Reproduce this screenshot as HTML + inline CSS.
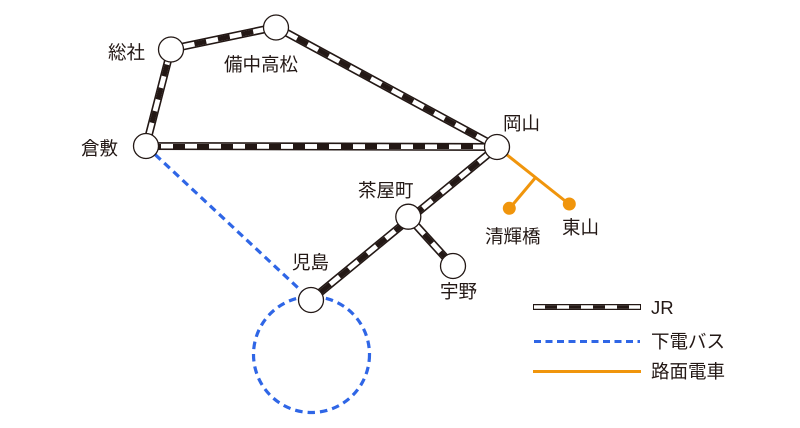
<!DOCTYPE html>
<html><head><meta charset="utf-8">
<style>
html,body{margin:0;padding:0;background:#fff;}
svg{display:block;}
text{font-family:"Liberation Sans","Noto Sans CJK JP",sans-serif;font-size:18.5px;fill:#231815;}
</style></head>
<body>
<svg width="800" height="428" viewBox="0 0 800 428" xmlns="http://www.w3.org/2000/svg">
<!-- bus dashed -->
<g fill="none" stroke="#2f66e6" stroke-width="3.2" stroke-dasharray="7.5 5">
  <line x1="146" y1="146" x2="311" y2="300"/>
  <circle cx="311.5" cy="354.5" r="58"/>
</g>
<!-- tram -->
<g stroke="#f0950c" stroke-width="3" fill="none">
  <line x1="497" y1="147" x2="569" y2="204"/>
  <line x1="536" y1="177" x2="509.5" y2="208.5"/>
</g>
<g fill="#f0950c">
  <circle cx="569.3" cy="204" r="6.5"/>
  <circle cx="509.3" cy="208.3" r="6.5"/>
</g>
<!-- JR lines -->
<g fill="none" stroke-linecap="butt">
  <g stroke="#231815" stroke-width="8">
    <polyline points="146,146 171,49 276,27 497,147 146,146"/>
    <line x1="497" y1="147" x2="311" y2="300"/>
    <line x1="408" y1="216.5" x2="453" y2="266"/>
  </g>
  <g stroke="#fff" stroke-width="4.8">
    <polyline points="146,146 171,49 276,27 497,147 146,146"/>
    <line x1="497" y1="147" x2="311" y2="300"/>
    <line x1="408" y1="216.5" x2="453" y2="266"/>
  </g>
  <g stroke="#231815" stroke-width="4.9" stroke-dasharray="12 12">
    <line x1="146" y1="146" x2="171" y2="49"/>
    <line x1="171" y1="49" x2="276" y2="27"/>
    <line x1="276" y1="27" x2="497" y2="147"/>
    <line x1="497" y1="146.5" x2="146" y2="146.5"/>
    <line x1="497" y1="147" x2="311" y2="300"/>
    <line x1="408" y1="216.5" x2="453" y2="266"/>
  </g>
</g>
<!-- nodes -->
<g fill="#fff" stroke="#231815" stroke-width="1.3">
  <circle cx="171" cy="49.5" r="12.5"/>
  <circle cx="276" cy="27.5" r="12.5"/>
  <circle cx="146" cy="146" r="12.5"/>
  <circle cx="497" cy="147" r="12.5"/>
  <circle cx="408.3" cy="216.7" r="12.5"/>
  <circle cx="453" cy="266" r="12.5"/>
  <circle cx="311" cy="300" r="12.5"/>
</g>
<!-- labels -->
<text x="108" y="59">総社</text>
<text x="224" y="71">備中高松</text>
<text x="81" y="155">倉敷</text>
<text x="503" y="130">岡山</text>
<text x="358" y="197">茶屋町</text>
<text x="485" y="243">清輝橋</text>
<text x="562" y="234">東山</text>
<text x="292" y="269">児島</text>
<text x="440" y="298">宇野</text>
<!-- legend -->
<g fill="none">
  <line x1="533" y1="307" x2="641" y2="307" stroke="#231815" stroke-width="6"/>
  <line x1="534" y1="307" x2="640" y2="307" stroke="#fff" stroke-width="3.6"/>
  <line x1="545" y1="307" x2="640" y2="307" stroke="#231815" stroke-width="3.6" stroke-dasharray="12 12"/>
  <line x1="534" y1="341.5" x2="640" y2="341.5" stroke="#2f66e6" stroke-width="3" stroke-dasharray="7 4.5"/>
  <line x1="533" y1="371.5" x2="641" y2="371.5" stroke="#f0950c" stroke-width="3"/>
</g>
<text x="651" y="314">JR</text>
<text x="651" y="348">下電バス</text>
<text x="651" y="378">路面電車</text>
</svg>
</body></html>
